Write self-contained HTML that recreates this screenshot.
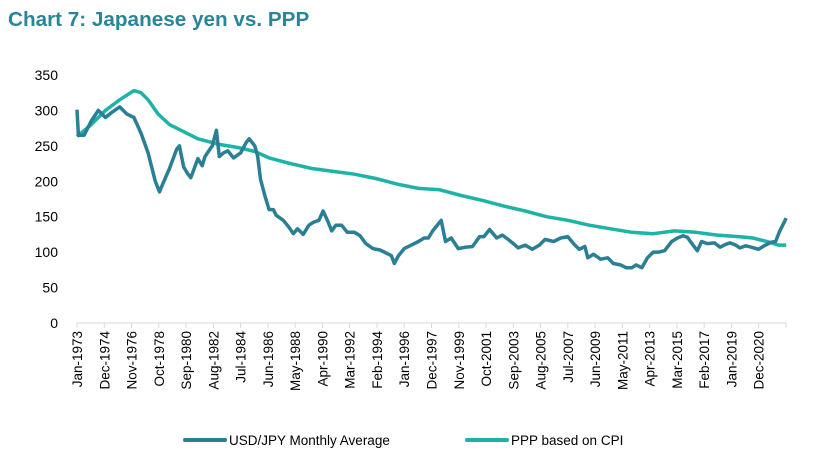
<!DOCTYPE html>
<html><head><meta charset="utf-8"><style>
body{margin:0;background:#fff;width:817px;height:464px;overflow:hidden;font-family:"Liberation Sans",Arial,sans-serif}
</style></head><body>
<svg id="c" width="817" height="464" font-family="Liberation Sans, Arial, sans-serif">
<text x="8" y="26" font-size="20.7" font-weight="bold" fill="#2a8599">Chart 7: Japanese yen vs. PPP</text>
<g id="yax"></g><g id="xax"></g><g id="lines"></g>
<g>
<line x1="185" y1="440" x2="225" y2="440" stroke="#2a7f94" stroke-width="4" stroke-linecap="round"/>
<text x="229" y="445" font-size="13.5" fill="#000">USD/JPY Monthly Average</text>
<line x1="467" y1="440" x2="507" y2="440" stroke="#1db3a6" stroke-width="4" stroke-linecap="round"/>
<text x="511" y="445" font-size="13.5" fill="#000">PPP based on CPI</text>
</g>
</svg>
<script>
const yTicks=[0,50,100,150,200,250,300,350];
const xLabels=["Jan-1973","Dec-1974","Nov-1976","Oct-1978","Sep-1980","Aug-1982","Jul-1984","Jun-1986","May-1988","Apr-1990","Mar-1992","Feb-1994","Jan-1996","Dec-1997","Nov-1999","Oct-2001","Sep-2003","Aug-2005","Jul-2007","Jun-2009","May-2011","Apr-2013","Mar-2015","Feb-2017","Jan-2019","Dec-2020"];
const usdT=[1973,1973.1,1973.5,1974,1974.5,1975,1975.5,1976,1976.5,1977,1977.5,1978,1978.5,1978.8,1979,1979.5,1980,1980.2,1980.5,1980.8,1981,1981.5,1981.8,1982,1982.5,1982.8,1983,1983.3,1983.6,1984,1984.5,1984.9,1985.1,1985.5,1985.7,1985.9,1986.2,1986.5,1986.8,1987,1987.5,1987.9,1988.2,1988.5,1988.9,1989.3,1989.6,1990,1990.3,1990.6,1990.9,1991.2,1991.6,1992,1992.5,1992.9,1993.3,1993.8,1994.3,1994.8,1995.1,1995.3,1995.6,1996,1996.5,1997,1997.4,1997.7,1998,1998.6,1998.9,1999.3,1999.8,2000.3,2000.8,2001.3,2001.6,2002,2002.5,2002.9,2003.3,2003.8,2004,2004.5,2005,2005.5,2005.9,2006.5,2007,2007.5,2007.9,2008.3,2008.7,2008.9,2009.3,2009.8,2010.3,2010.7,2011.2,2011.6,2012,2012.3,2012.7,2013.1,2013.5,2013.9,2014.3,2014.8,2015.2,2015.6,2015.9,2016.3,2016.6,2016.9,2017.3,2017.8,2018.2,2018.6,2018.9,2019.3,2019.6,2020,2020.4,2020.9,2021.3,2021.8,2022.1,2022.4,2022.7,2022.85];
const usdV=[301,265,265,285,300,290,298,305,295,290,268,240,200,185,195,218,245,250,220,210,205,232,222,235,250,272,235,240,243,233,240,255,260,250,235,203,180,160,160,152,145,135,126,133,125,138,142,145,158,145,130,138,138,128,128,123,112,105,103,98,95,84,95,105,110,115,120,120,130,145,115,120,105,107,108,122,122,132,120,124,118,110,106,110,104,110,118,115,120,122,112,104,108,92,97,90,92,84,82,78,78,82,78,92,100,100,102,115,120,123,121,110,102,115,112,113,107,111,113,110,106,109,107,104,109,114,115,130,142,148];
const pppT=[1973,1974,1975,1976,1977,1977.5,1978,1978.7,1979.5,1980.5,1981.5,1983,1984.5,1985.5,1986.5,1988,1989.5,1991,1992.5,1994,1995.5,1997,1998.5,2000,2001.5,2003,2004.5,2006,2007.5,2009,2010.5,2012,2013.5,2015,2016.5,2018,2019.5,2020.5,2021.5,2022.3,2022.85];
const pppV=[263,280,300,315,328,325,315,295,280,270,260,252,247,242,233,225,218,214,210,204,196,190,188,180,173,165,158,150,145,138,133,128,126,130,128,124,122,120,115,110,110];
const NS="http://www.w3.org/2000/svg";
const X0=77,X1=786,Y0=323,Y350=75;
const xs=t=>X0+(t-1973)*12*(X1-X0)/598;
const ys=v=>Y0-v*(Y0-Y350)/350;
function mk(tag,attrs,parent){const e=document.createElementNS(NS,tag);for(const k in attrs)e.setAttribute(k,attrs[k]);parent.appendChild(e);return e;}
const yax=document.getElementById('yax'),xax=document.getElementById('xax'),lines=document.getElementById('lines');
yTicks.forEach(v=>{const t=mk('text',{x:58,y:ys(v)+5,'text-anchor':'end','font-size':'14',fill:'#000'},yax);t.textContent=v;

});
const ax=mk('line',{x1:X0,y1:Y0,x2:X1,y2:Y0,stroke:'#d9d9d9','stroke-width':1},xax);


xLabels.forEach((l,i)=>{const x=xs(1973+i*23/12);
mk('line',{x1:x,y1:Y0,x2:x,y2:Y0+5,stroke:'#d9d9d9'},xax);
const t=mk('text',{x:0,y:0,transform:`translate(${x+5},${Y0+8}) rotate(-90)`,'text-anchor':'end','font-size':'13.5',fill:'#000'},xax);t.textContent=l;

});
mk('line',{x1:X1,y1:Y0,x2:X1,y2:Y0+5,stroke:'#d9d9d9'},xax);
function path(T,V){return T.map((t,i)=>(i?'L':'M')+xs(t).toFixed(1)+','+ys(V[i]).toFixed(1)).join(' ');}
const p1=mk('path',{d:path(pppT,pppV),fill:'none',stroke:'#1db3a6','stroke-width':3.5,'stroke-linejoin':'round'},lines);


const p2=mk('path',{d:path(usdT,usdV),fill:'none',stroke:'#2a7f94','stroke-width':3.5,'stroke-linejoin':'round'},lines);


</script>
</body></html>
